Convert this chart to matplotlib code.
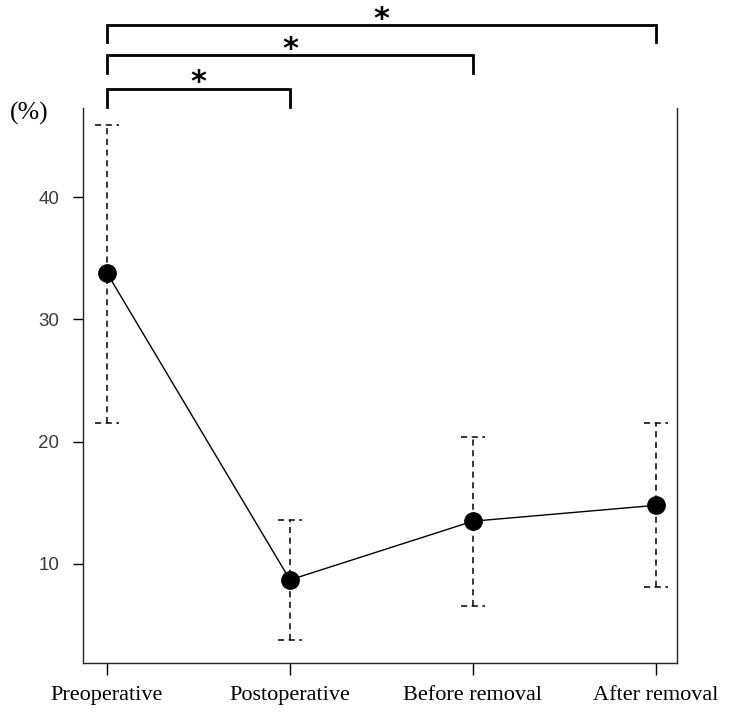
import numpy as np
import matplotlib.pyplot as plt

# data
stages = ['Preoperative', 'Postoperative', 'Before removal', 'After removal']
means = [33.8, 8.7, 13.5, 14.8]
upper = [45.9, 13.6, 20.4, 21.5]
lower = [21.5, 3.8, 6.6, 8.1]
yticks = [10, 20, 30, 40]

# significance brackets: (from, to, bar level, leg bottom, star level)
brackets = [(0, 1, 48.85, 47.4, 49.4),
            (0, 2, 51.6, 50.2, 52.1),
            (0, 3, 54.1, 52.7, 54.55)]

x = np.arange(len(stages))

fig = plt.figure(figsize=(7.5, 7.18), dpi=100)
ax = fig.add_axes([0.1107, 0.0766, 0.792, 0.773])

dash = (0, (4, 3))
ax.vlines(x, lower, upper, colors='black', linestyles=dash, linewidth=1.1)
cap = 0.065
ax.hlines(upper, x - cap, x + cap, colors='black', linestyles=dash, linewidth=1.1)
ax.hlines(lower, x - cap, x + cap, colors='black', linestyles=dash, linewidth=1.1)
ax.plot(x, means, color='black', linewidth=1.0, marker='o', markersize=12.5, zorder=3)

ax.set_xlim(-0.131, 3.115)
ax.set_ylim(1.9, 47.3)
ax.set_xticks(x)
ax.set_xticklabels(stages, fontfamily='Liberation Serif', fontsize=16)
ax.set_yticks(yticks)
ax.set_yticklabels([str(t) for t in yticks], fontfamily='Liberation Sans',
                   fontsize=13.5, color='#3a3a3a')
ax.tick_params(axis='x', length=8.5, width=1.0, pad=8)
ax.tick_params(axis='y', length=7, width=1.0, pad=10)

ax.spines['top'].set_visible(False)
for s in ['left', 'right', 'bottom']:
    ax.spines[s].set_linewidth(1.0)
    ax.spines[s].set_color('#222222')

for a, b, level, leg, star in brackets:
    ax.plot([a, a, b, b], [leg, level, level, leg], color='black',
            linewidth=2.0, clip_on=False, solid_joinstyle='miter')
    ax.text((a + b) / 2, star, '*', ha='center', va='center',
            fontsize=22, fontweight='bold', clip_on=False)

fig.text(0.013, 0.833, '(%)', fontfamily='Liberation Serif', fontsize=18.5)

fig.savefig('out.png', dpi=100)
